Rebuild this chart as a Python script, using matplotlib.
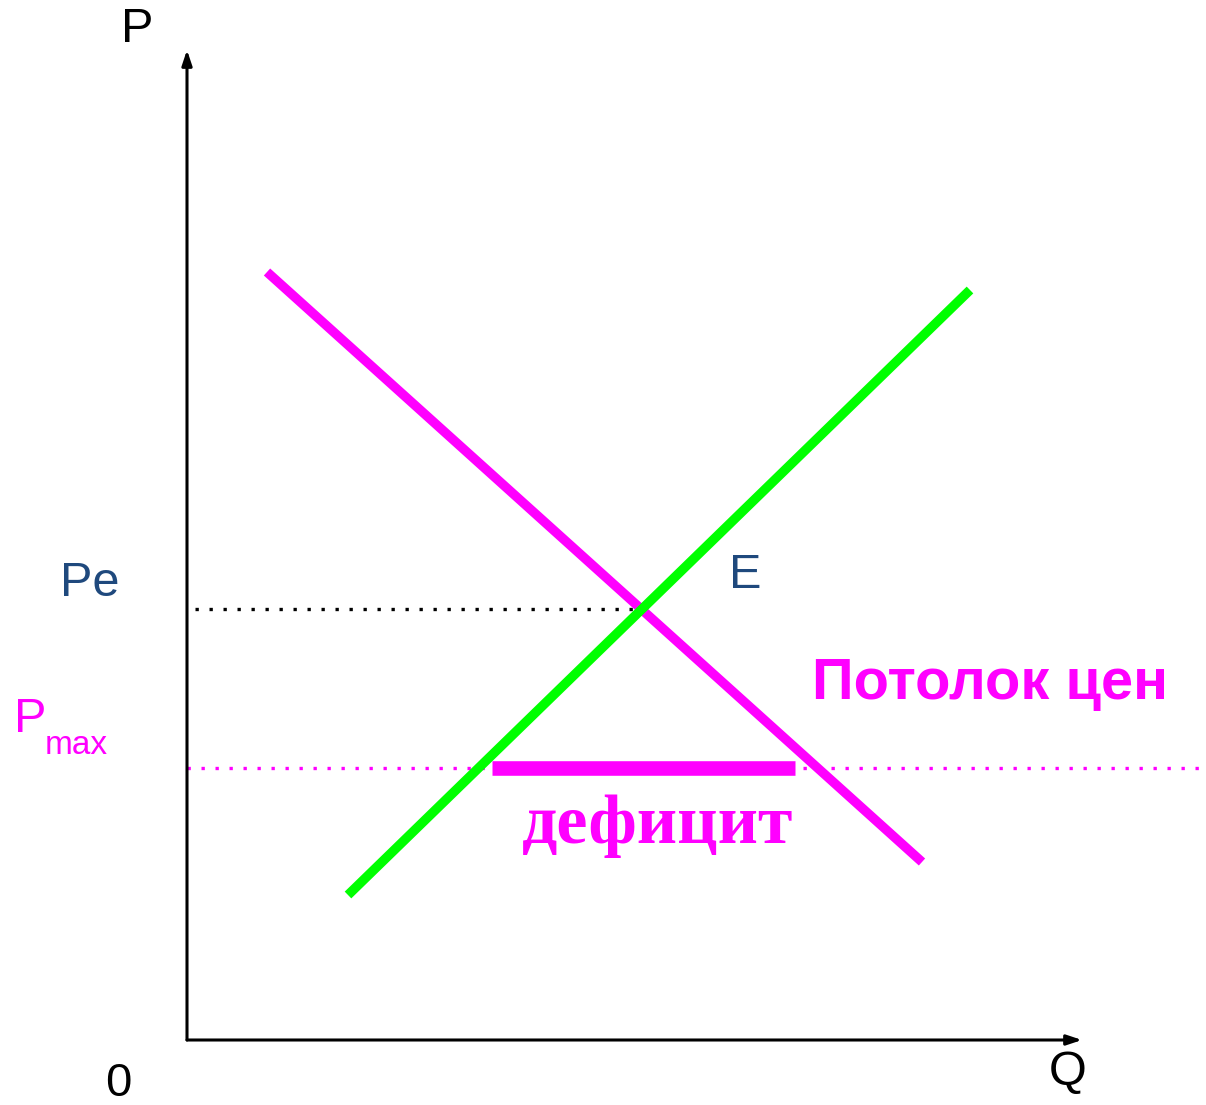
import matplotlib
matplotlib.use("Agg")
import matplotlib.pyplot as plt

# ---- data (Q, P in chart units) ----
demand_q = [0.80, 7.35]
demand_p = [7.68, 1.78]
supply_q = [1.61, 7.83]
supply_p = [1.45, 7.50]
pe_value = 4.31
pe_q = [0.08, 4.54]
pmax_value = 2.72
pmax_q = [0.0, 10.18]
deficit_q = [3.05, 6.08]
x_axis_max = 8.95
y_axis_max = 9.90

MAGENTA = "#FF00FF"
GREEN = "#00FF00"
NAVY = "#1F497D"

W, H = 1206, 1105
fig = plt.figure(figsize=(W / 100, H / 100), dpi=100)
ax = fig.add_axes([0, 0, 1, 1])
# origin of chart at pixel (187, 1040); 1 unit = 100 px
ax.set_xlim(-1.87, (W - 187) / 100)
ax.set_ylim(-(H - 1040) / 100, 10.40)
ax.axis("off")

# axes with arrows
ax.annotate("", xy=(0, y_axis_max), xytext=(0, 0),
            arrowprops=dict(arrowstyle="-|>,head_length=0.9,head_width=0.3", lw=2.2, color="black",
                            shrinkA=0, shrinkB=0))
ax.annotate("", xy=(x_axis_max, 0), xytext=(0, 0),
            arrowprops=dict(arrowstyle="-|>,head_length=0.9,head_width=0.3", lw=2.2, color="black",
                            shrinkA=0, shrinkB=0))

# dotted guide lines
ax.plot(pe_q, [pe_value, pe_value], color="black", lw=2.4, linestyle=(0, (1, 3.2)))
ax.plot(pmax_q, [pmax_value, pmax_value], color=MAGENTA, lw=2.4, linestyle=(0, (1, 3.2)))

# curves
ax.plot(demand_q, demand_p, color=MAGENTA, lw=6.8, solid_capstyle="butt")
ax.plot(supply_q, supply_p, color=GREEN, lw=6.8, solid_capstyle="butt")

# deficit bar
ax.plot(deficit_q, [pmax_value, pmax_value], color=MAGENTA, lw=10.5, solid_capstyle="butt")

sans = "Liberation Sans"
ax.text(-0.50, 10.10, "P", fontsize=35, family=sans, ha="center", va="center", color="black")
ax.text(-0.69, -0.44, "0", fontsize=34, family=sans, ha="center", va="center", color="black")
ax.text(8.81, -0.32, "Q", fontsize=35, family=sans, ha="center", va="center", color="black")
ax.text(-0.97, pe_value + 0.25, "Pe", fontsize=35, family=sans, ha="center", va="center", color=NAVY)
ax.text(5.58, 4.64, "E", fontsize=35, family=sans, ha="center", va="center", color=NAVY)
ax.text(-1.73, 3.21, "P", fontsize=35, family=sans, ha="left", va="center", color=MAGENTA)
ax.text(-1.42, 2.95, "max", fontsize=24, family=sans, ha="left", va="center", color=MAGENTA)
ax.text(6.25, 3.56, "Потолок цен", fontsize=41.7, family=sans, fontweight="bold",
        ha="left", va="center", color=MAGENTA)
ax.text(4.71, 2.14, "дефицит", fontsize=50.5, family="Liberation Serif", fontweight="bold",
        ha="center", va="center", color=MAGENTA)

fig.savefig("out.png", dpi=100, facecolor="white")
